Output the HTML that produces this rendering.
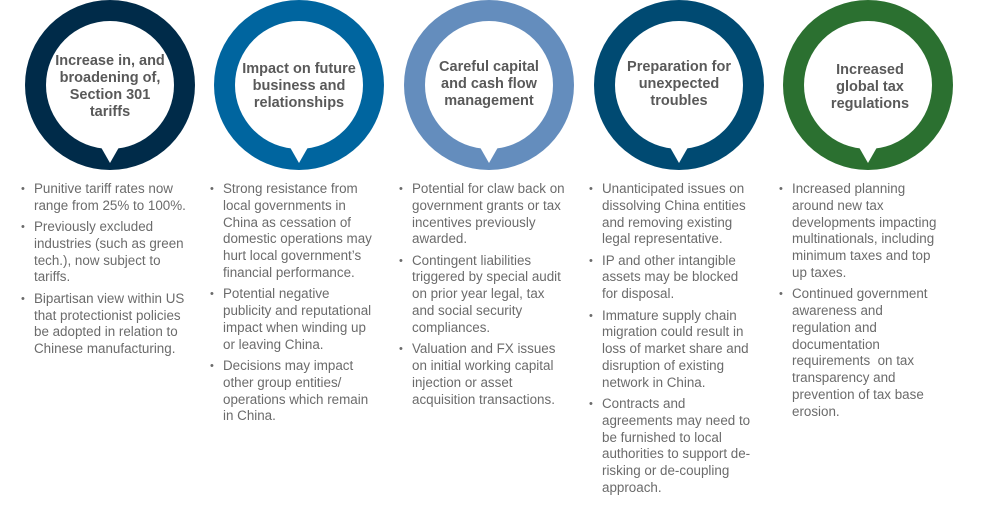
<!DOCTYPE html>
<html><head><meta charset="utf-8"><style>
body{margin:0;width:981px;height:514px;background:#fff;position:relative;overflow:hidden;font-family:"Liberation Sans",Arial,sans-serif;}
svg{position:absolute;left:0;top:0;}
.t{position:absolute;width:140px;text-align:center;font-weight:bold;color:#595959;font-size:14.5px;line-height:17px;}
.col{position:absolute;top:181px;width:170px;color:#6b6b6b;font-size:13.4px;line-height:16.8px;}
.col p{margin:0 0 4.5px 0;padding-left:13px;position:relative;white-space:nowrap;}
.col p:before{content:"•";position:absolute;left:0;top:0;font-size:11px;}
</style></head><body>
<svg width="981" height="514">
<g transform="translate(110,85)" fill="#002b49"><circle r="85"/><circle r="64" fill="#fff"/><polygon points="-12,57 12,57 0,78" fill="#fff"/></g>
<g transform="translate(299,85)" fill="#00659f"><circle r="85"/><circle r="64" fill="#fff"/><polygon points="-12,57 12,57 0,78" fill="#fff"/></g>
<g transform="translate(489,85)" fill="#648dbd"><circle r="85"/><circle r="64" fill="#fff"/><polygon points="-12,57 12,57 0,78" fill="#fff"/></g>
<g transform="translate(679,85)" fill="#004a72"><circle r="85"/><circle r="64" fill="#fff"/><polygon points="-12,57 12,57 0,78" fill="#fff"/></g>
<g transform="translate(868,85)" fill="#2b7030"><circle r="85"/><circle r="64" fill="#fff"/><polygon points="-12,57 12,57 0,78" fill="#fff"/></g>
</svg>
<div class="t" style="left:40px;top:53px;">Increase in, and<br>broadening of,<br>Section 301<br>tariffs</div>
<div class="t" style="left:229px;top:61px;">Impact on future<br>business and<br>relationships</div>
<div class="t" style="left:419px;top:59px;">Careful capital<br>and cash flow<br>management</div>
<div class="t" style="left:609px;top:59px;">Preparation for<br>unexpected<br>troubles</div>
<div class="t" style="left:800px;top:62px;">Increased<br>global tax<br>regulations</div>

<div class="col" style="left:21px;">
<p>Punitive tariff rates now<br>range from 25% to 100%.</p>
<p>Previously excluded<br>industries (such as green<br>tech.), now subject to<br>tariffs.</p>
<p>Bipartisan view within US<br>that protectionist policies<br>be adopted in relation to<br>Chinese manufacturing.</p>
</div>
<div class="col" style="left:210px;">
<p>Strong resistance from<br>local governments in<br>China as cessation of<br>domestic operations may<br>hurt local government’s<br>financial performance.</p>
<p>Potential negative<br>publicity and reputational<br>impact when winding up<br>or leaving China.</p>
<p>Decisions may impact<br>other group entities/<br>operations which remain<br>in China.</p>
</div>
<div class="col" style="left:399px;">
<p>Potential for claw back on<br>government grants or tax<br>incentives previously<br>awarded.</p>
<p>Contingent liabilities<br>triggered by special audit<br>on prior year legal, tax<br>and social security<br>compliances.</p>
<p>Valuation and FX issues<br>on initial working capital<br>injection or asset<br>acquisition transactions.</p>
</div>
<div class="col" style="left:589px;">
<p>Unanticipated issues on<br>dissolving China entities<br>and removing existing<br>legal representative.</p>
<p>IP and other intangible<br>assets may be blocked<br>for disposal.</p>
<p>Immature supply chain<br>migration could result in<br>loss of market share and<br>disruption of existing<br>network in China.</p>
<p>Contracts and<br>agreements may need to<br>be furnished to local<br>authorities to support de-<br>risking or de-coupling<br>approach.</p>
</div>
<div class="col" style="left:779px;">
<p>Increased planning<br>around new tax<br>developments impacting<br>multinationals, including<br>minimum taxes and top<br>up taxes.</p>
<p>Continued government<br>awareness and<br>regulation and<br>documentation<br>requirements &nbsp;on tax<br>transparency and<br>prevention of tax base<br>erosion.</p>
</div>
</body></html>
